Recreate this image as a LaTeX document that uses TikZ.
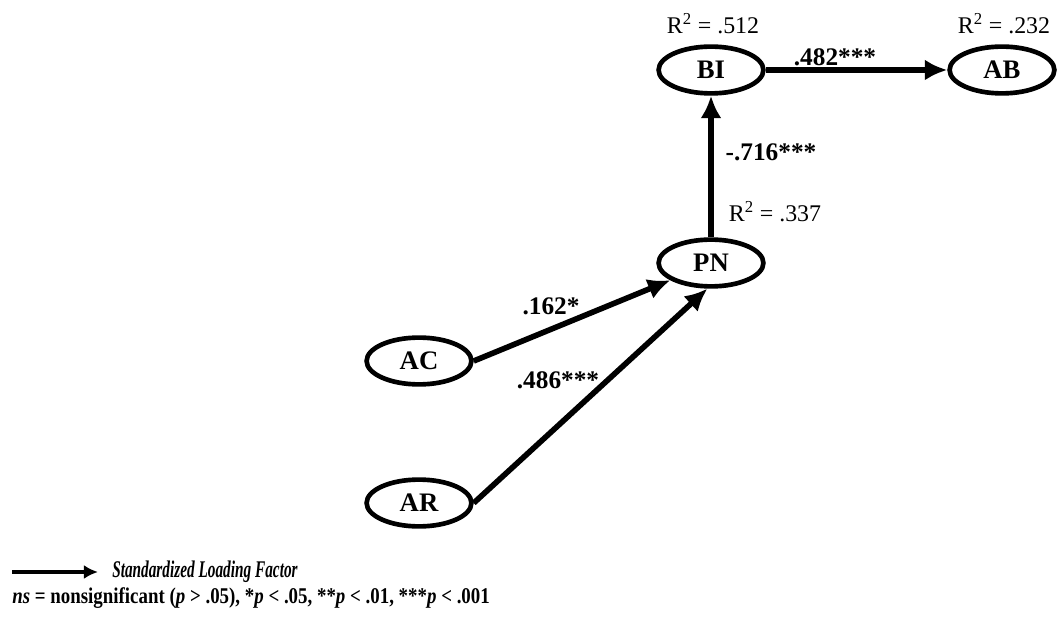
\documentclass[tikz,border=0pt]{standalone}
\usepackage{fontspec}
\setmainfont{Liberation Serif}
\usetikzlibrary{shapes.geometric,arrows.meta}
\begin{document}
\begin{tikzpicture}[x=0.025cm,y=-0.025cm,
  latent/.style={ellipse,draw,line width=3.3pt,minimum width=2.62cm,minimum height=1.17cm,inner sep=0pt,font=\fontsize{19}{21}\selectfont\bfseries},
  path/.style={line width=4pt,-{Latex[length=16pt,width=15pt]}},
  coef/.style={font=\fontsize{18}{20}\selectfont\bfseries},
  rsq/.style={font=\fontsize{17}{19}\selectfont},
  legend/.style={anchor=west,inner sep=0pt}]
\useasboundingbox (0,0) rectangle (1058,635);
\node[latent] (BI) at (711,70) {BI};
\node[latent] (AB) at (1002,70) {AB};
\node[latent] (PN) at (711,263) {PN};
\node[latent] (AC) at (419,361) {AC};
\node[latent] (AR) at (419,503) {AR};
\draw[path] (BI) -- (AB);
\draw[path] (PN) -- (BI);
\draw[path] (AC.east) -- (PN.203);
\draw[path] (AR.east) -- (PN.262);
\node[rsq] (r1) at (713,24) {R\textsuperscript{2} = .512};
\node[rsq] (r2) at (1004,24) {R\textsuperscript{2} = .232};
\node[rsq] (r3) at (775,212) {R\textsuperscript{2} = .337};
\node[coef] (c1) at (835,57) {.482***};
\node[coef] (c2) at (771,152) {-.716***};
\node[coef] (c3) at (551,306) {.162*};
\node[coef] (c4) at (558,380) {.486***};
\coordinate (la) at (12,572);
\node[legend,font=\fontsize{17}{19}\selectfont\bfseries\itshape] (lt) at (112,572) {\scalebox{0.64}[1]{Standardized Loading Factor}};
\draw[line width=2.4pt,-{Latex[length=10pt,width=10pt]}] (la) -- ([xshift=-10pt]lt.west);
\node[legend,font=\fontsize{16}{18}\selectfont\bfseries] (lt2) at (12,598) {\scalebox{0.84}[1]{\textit{ns} = nonsignificant (\textit{p} > .05), *\textit{p} < .05, **\textit{p} < .01, ***\textit{p} < .001}};
\end{tikzpicture}
\end{document}
